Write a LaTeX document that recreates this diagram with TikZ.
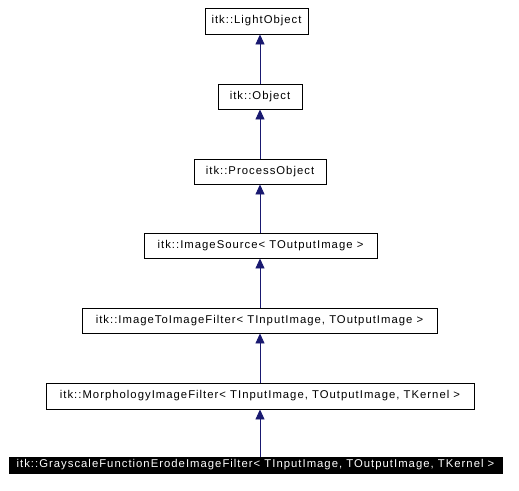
\documentclass[tikz,border=0pt]{standalone}
\usepackage{fontspec}
\setmainfont{Liberation Sans}[LetterSpace=9]
\usetikzlibrary{arrows.meta}
\definecolor{edgeblue}{HTML}{191970}
\begin{document}
\begin{tikzpicture}[x=1pt,y=-1pt,
  box/.style={draw=black,line width=0.9pt,fill=white,rectangle,inner sep=0pt,
    font=\fontsize{11.3}{12}\selectfont,text=black},
  hibox/.style={box,fill=black,text=white},
  arr/.style={draw=edgeblue,line width=0.9pt,-{Triangle[length=10pt,width=9pt]},color=edgeblue}]
\useasboundingbox (0,0) rectangle (519,490);
\node[box,minimum width=103pt,minimum height=26pt] (light) at (256.5,21) {itk::LightObject};
\node[box,minimum width=84pt,minimum height=25pt] (obj) at (260,96.5) {itk::Object};
\node[box,minimum width=132pt,minimum height=25pt] (proc) at (260,171.5) {itk::ProcessObject};
\node[box,minimum width=233pt,minimum height=25pt] (src) at (260.5,245.5) {itk::ImageSource< TOutputImage >};
\node[box,minimum width=355pt,minimum height=25pt] (i2i) at (259.5,320.5) {itk::ImageToImageFilter< TInputImage, TOutputImage >};
\node[box,minimum width=428pt,minimum height=26pt] (morph) at (260,396) {itk::MorphologyImageFilter< TInputImage, TOutputImage, TKernel >};
\node[hibox,minimum width=493pt,minimum height=16pt] (gray) at (255.5,465) {itk::GrayscaleFunctionErodeImageFilter< TInputImage, TOutputImage, TKernel >};
\draw[arr] (obj.north) -- (obj.north |- light.south);
\draw[arr] (proc.north) -- (proc.north |- obj.south);
\draw[arr] (src.north -| proc.south) -- (proc.south);
\draw[arr] (i2i.north -| proc.south) -- (src.south -| proc.south);
\draw[arr] (morph.north) -- (morph.north |- i2i.south);
\draw[arr] (gray.north -| morph.south) -- (morph.south);
\end{tikzpicture}
\end{document}
